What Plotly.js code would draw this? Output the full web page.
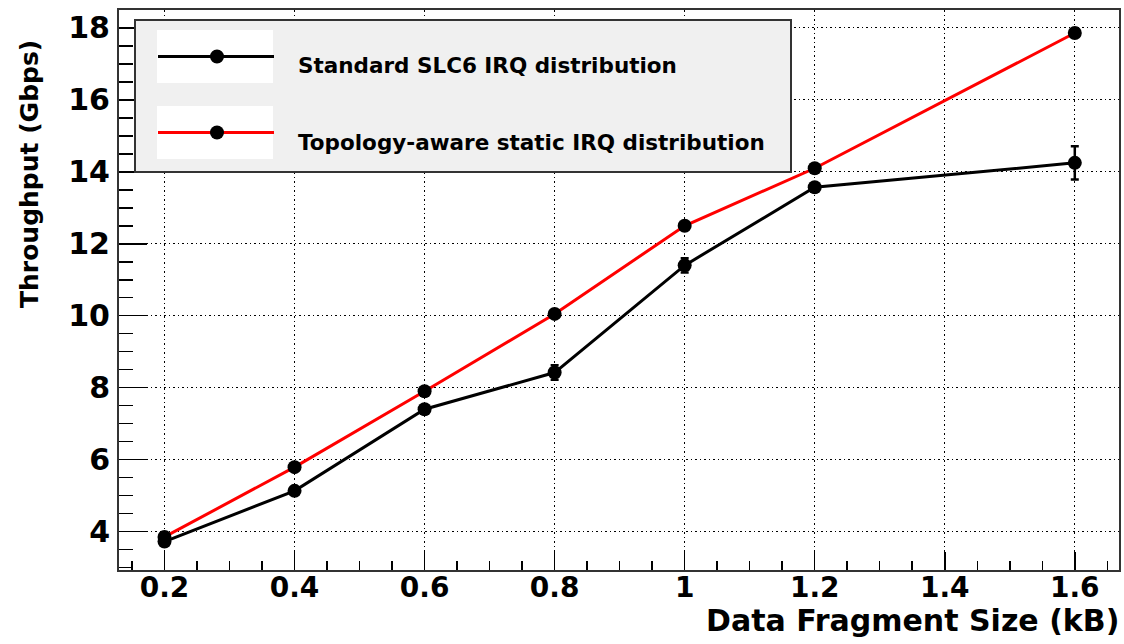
<!DOCTYPE html>
<html>
<head>
<meta charset="utf-8">
<script src="https://cdn.plot.ly/plotly-3.0.1.min.js"></script>
<style>
  html, body { margin: 0; padding: 0; background: #ffffff; }
  #chart { width: 1124px; height: 644px; }
</style>
</head>
<body>
<div id="chart"></div>
<script>
// ---- data ----
const fragmentSizes = [0.2, 0.4, 0.6, 0.8, 1.0, 1.2, 1.6];
const standardThroughput = [3.72, 5.13, 7.40, 8.42, 11.40, 13.57, 14.25];
const standardError = [0.08, 0.06, 0.08, 0.20, 0.20, 0.06, 0.46];
const topologyThroughput = [3.85, 5.79, 7.90, 10.05, 12.50, 14.10, 17.86];
const topologyError = [0.05, 0.05, 0.05, 0.05, 0.05, 0.05, 0.05];
const seriesNames = ["Standard SLC6 IRQ distribution", "Topology-aware static IRQ distribution"];
const xTitle = "Data Fragment Size (kB)";
const yTitle = "Throughput (Gbps)";

const FONT = "DejaVu Sans, Liberation Sans, Arial, sans-serif";

const traces = [
  {
    x: fragmentSizes, y: standardThroughput, name: seriesNames[0],
    type: "scatter", mode: "lines+markers",
    line: { color: "#000000", width: 3 },
    marker: { color: "#000000", size: 14, symbol: "circle" },
    error_y: { type: "data", array: standardError, visible: true, color: "#000000", thickness: 2.5, width: 4 }
  },
  {
    x: fragmentSizes, y: topologyThroughput, name: seriesNames[1],
    type: "scatter", mode: "lines+markers",
    line: { color: "#ff0000", width: 3 },
    marker: { color: "#000000", size: 14, symbol: "circle" },
    error_y: { type: "data", array: topologyError, visible: true, color: "#000000", thickness: 2, width: 3 }
  }
];

// plot area: left 119, right 1119, top 10, bottom 570 (pixels)
const L = 119, R = 1119, T = 10, B = 570;
const px = v => (v - L) / (R - L);
const py = v => (B - v) / (B - T);

const shapes = [
  // legend box
  { type: "rect", xref: "paper", yref: "paper", layer: "above",
    x0: px(135), x1: px(791), y0: py(172), y1: py(20),
    fillcolor: "#f0f0f0", line: { color: "#333333", width: 2 } },
  // white entry backgrounds
  { type: "rect", xref: "paper", yref: "paper", layer: "above",
    x0: px(157), x1: px(273), y0: py(83), y1: py(30),
    fillcolor: "#ffffff", line: { width: 0 } },
  { type: "rect", xref: "paper", yref: "paper", layer: "above",
    x0: px(157), x1: px(273), y0: py(159), y1: py(106),
    fillcolor: "#ffffff", line: { width: 0 } },
  // entry lines
  { type: "line", xref: "paper", yref: "paper", layer: "above",
    x0: px(158), x1: px(274), y0: py(56.5), y1: py(56.5),
    line: { color: "#000000", width: 3 } },
  { type: "line", xref: "paper", yref: "paper", layer: "above",
    x0: px(158), x1: px(274), y0: py(132.5), y1: py(132.5),
    line: { color: "#ff0000", width: 3 } },
  // entry markers
  { type: "circle", xref: "paper", yref: "paper", layer: "above",
    x0: px(210), x1: px(224), y0: py(63.5), y1: py(49.5),
    fillcolor: "#000000", line: { width: 0 } },
  { type: "circle", xref: "paper", yref: "paper", layer: "above",
    x0: px(210), x1: px(224), y0: py(139.5), y1: py(125.5),
    fillcolor: "#000000", line: { width: 0 } }
];

const annotations = [
  { xref: "paper", yref: "paper", x: px(296), y: py(66), xanchor: "left", yanchor: "middle",
    text: seriesNames[0], showarrow: false,
    font: { family: FONT, size: 21.5, color: "#000000", weight: "bold" } },
  { xref: "paper", yref: "paper", x: px(296), y: py(142), xanchor: "left", yanchor: "middle",
    text: seriesNames[1], showarrow: false,
    font: { family: FONT, size: 21.5, color: "#000000", weight: "bold" } },
  { xref: "paper", yref: "paper", x: px(1121), y: py(620), xanchor: "right", yanchor: "middle",
    text: xTitle, showarrow: false,
    font: { family: FONT, size: 30, color: "#000000", weight: "bold" } },
  { xref: "paper", yref: "paper", x: px(30), y: py(174), xanchor: "center", yanchor: "middle",
    text: yTitle, showarrow: false, textangle: -90,
    font: { family: FONT, size: 25, color: "#000000", weight: "bold" } }
];

const layout = {
  width: 1124, height: 644,
  margin: { l: L, r: 1124 - R, t: T, b: 644 - B, pad: 0 },
  paper_bgcolor: "#ffffff", plot_bgcolor: "#ffffff",
  showlegend: false,
  font: { family: FONT, color: "#000000" },
  xaxis: {
    range: [0.130, 1.668], dtick: 0.2, tick0: 0,
    ticks: "inside", ticklen: 18, tickwidth: 1.5, tickcolor: "#000000",
    minor: { dtick: 0.05, ticks: "inside", ticklen: 9, tickwidth: 1.5, tickcolor: "#000000", showgrid: false },
    showgrid: true, gridcolor: "#000000", gridwidth: 1, griddash: "1.5px,3px",
    showline: true, linecolor: "#333333", linewidth: 2, mirror: true,
    zeroline: false,
    tickfont: { family: FONT, size: 28, color: "#000000", weight: "bold" },
    ticklabelstandoff: -9
  },
  yaxis: {
    range: [2.93, 18.50], dtick: 2, tick0: 0,
    ticks: "inside", ticklen: 28, tickwidth: 1.5, tickcolor: "#000000",
    minor: { dtick: 0.5, ticks: "inside", ticklen: 14, tickwidth: 1.5, tickcolor: "#000000", showgrid: false },
    showgrid: true, gridcolor: "#000000", gridwidth: 1, griddash: "1.5px,3px",
    showline: true, linecolor: "#333333", linewidth: 2, mirror: true,
    zeroline: false,
    tickfont: { family: FONT, size: 30, color: "#000000", weight: "bold" },
    ticklabelstandoff: 1
  },
  shapes: shapes,
  annotations: annotations
};

Plotly.newPlot("chart", traces, layout, { displayModeBar: false, staticPlot: true });
</script>
</body>
</html>
